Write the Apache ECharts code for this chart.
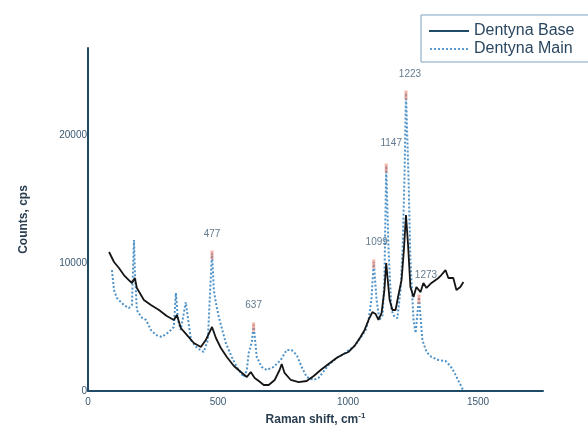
<!DOCTYPE html>
<html>
<head>
<meta charset="utf-8">
<script src="https://cdn.jsdelivr.net/npm/echarts@6/dist/echarts.min.js"></script>
<style>
  html, body { margin: 0; padding: 0; background: #fff; }
  #chart { width: 588px; height: 432px; }
</style>
</head>
<body>
<div id="chart"></div>
<script>
// Raman spectra (shift in cm-1, counts in cps)
var baseX = [81, 100, 119, 138, 157, 169, 180, 188, 215, 242, 273, 303, 330, 342, 357, 380, 407, 434, 453, 477,
  492, 511, 534, 561, 588, 611, 626, 641, 657, 676, 695, 718, 737, 745, 756, 780, 810, 841, 868, 895,
  925, 956, 983, 1002, 1025, 1048, 1064, 1079, 1094, 1106, 1117, 1129, 1140, 1147, 1160, 1171, 1183, 1194, 1206, 1215,
  1223, 1231, 1240, 1252, 1263, 1279, 1290, 1302, 1321, 1348, 1359, 1375, 1386, 1405, 1417, 1432, 1444];
var baseY = [10860, 10080, 9610, 9060, 8670, 8440, 8830, 8050, 7110, 6720, 6330, 5860, 5550, 5940, 4920, 4380, 3750, 3440, 3980, 5000,
  4140, 3360, 2660, 1950, 1480, 1090, 1480, 1020, 780, 470, 470, 860, 1640, 2110, 1410, 860, 700, 780, 1170, 1640,
  2110, 2580, 2890, 3050, 3520, 4220, 4770, 5550, 6170, 6020, 5550, 6090, 7890, 10000, 7110, 6330, 6330, 7500, 8670, 11020,
  13750, 11410, 8130, 7340, 8130, 7730, 8440, 8050, 8440, 8830, 9060, 9450, 8830, 8830, 7890, 8130, 8520];

var mainX = [92, 100, 111, 138, 157, 169, 173, 177, 180, 188, 204, 223, 242, 261, 284, 311, 330, 338, 346, 357,
  376, 388, 396, 419, 445, 461, 468, 477, 484, 492, 503, 530, 553, 572, 599, 611, 618, 630, 637, 649,
  668, 687, 714, 741, 764, 783, 803, 822, 841, 868, 887, 925, 956, 983, 1025, 1048, 1068, 1079, 1090, 1099,
  1110, 1121, 1133, 1140, 1147, 1156, 1167, 1179, 1190, 1202, 1210, 1217, 1223, 1233, 1240, 1252, 1260, 1273, 1286, 1302,
  1321, 1348, 1375, 1394, 1410, 1425, 1437, 1444];
var mainY = [9450, 7890, 7270, 6720, 6480, 6720, 9450, 11800, 9450, 6330, 5780, 5550, 4770, 4380, 4220, 4610, 5000, 7660, 5550, 4770,
  6950, 5160, 3980, 3360, 3050, 3980, 7110, 10780, 7890, 6880, 5780, 3750, 2660, 1880, 1090, 1640, 2970, 3830, 5160, 2660,
  1880, 1640, 1880, 2420, 3200, 3200, 2810, 1880, 1090, 860, 1020, 2030, 2580, 2890, 3520, 4140, 4770, 5550, 7110, 10080,
  7110, 5550, 5940, 8670, 17580, 11020, 6330, 5780, 5700, 7890, 11020, 16480, 23280, 16480, 10230, 5550, 4530, 7340, 3980, 3050,
  2660, 2420, 2340, 1950, 1410, 780, 310, 0];

// labelled peaks of Dentyna Main
var peakShift = [477, 637, 1099, 1147, 1223, 1273];
var peakLabels = ['477', '637', '1099', '1147', '1223', '1273'];

var xTicks = [0, 500, 1000, 1500];
var yTicks = [0, 10000, 20000];

var chart = echarts.init(document.getElementById('chart'));

function pairs(xs, ys) {
  return xs.map(function (x, i) { return [x, ys[i]]; });
}

// label nudges, px
var peakLabelOffset = [[0, -21], [0, -22], [3, -22], [5, -25], [4, -21], [7, -24]];

var peakData = peakShift.map(function (x, i) {
  return {
    value: [x, mainY[mainX.indexOf(x)]],
    label: { formatter: peakLabels[i], offset: peakLabelOffset[i] }
  };
});

// legend samples: a solid bar and a row of short dashes
var solidIcon = 'path://M0,0H40V2H0Z';
var dashIcon = 'path://';
for (var d = 0; d < 40; d += 4) dashIcon += 'M' + d + ',0h2v2h-2z';

var axisColor = '#1f4b68';
var textColor = '#3b5870';
var font = 'Liberation Sans, Arial, sans-serif';

var option = {
  animation: false,
  backgroundColor: '#fff',
  textStyle: { fontFamily: font },
  grid: { left: 88, right: 45, top: 48, bottom: 41 },
  legend: {
    orient: 'vertical',
    left: 421,
    top: 15,
    padding: [8, 20, 5, 8],
    itemWidth: 40,
    itemHeight: 2,
    itemGap: 2,
    borderColor: '#7fa3bd',
    borderWidth: 1,
    textStyle: { fontSize: 16, color: '#2a4761', fontFamily: font },
    data: [
      { name: 'Dentyna Base', icon: solidIcon, itemStyle: { color: '#1f4b68' } },
      { name: 'Dentyna Main', icon: dashIcon, itemStyle: { color: '#5b9bd0' } }
    ]
  },
  xAxis: {
    type: 'value',
    min: 0,
    max: 1750,
    interval: 500,
    name: 'Raman shift, cm{sup|-1}',
    nameLocation: 'middle',
    nameGap: 15,
    nameTextStyle: {
      fontSize: 12, fontWeight: 'bold', color: '#2a3e50',
      rich: { sup: { fontSize: 8, fontWeight: 'bold', color: '#2a3e50', verticalAlign: 'top', padding: [0, 0, 8, 0] } }
    },
    axisLine: { lineStyle: { color: axisColor, width: 2 } },
    axisTick: { show: false },
    splitLine: { show: false },
    axisLabel: {
      showMaxLabel: false, fontSize: 10, color: textColor, margin: 6,
      formatter: function (v) { return xTicks.indexOf(v) >= 0 ? String(v) : ''; }
    }
  },
  yAxis: {
    type: 'value',
    min: 0,
    max: 26800,
    interval: 10000,
    name: 'Counts, cps',
    nameLocation: 'middle',
    nameGap: 58,
    nameTextStyle: { fontSize: 12, fontWeight: 'bold', color: '#2a3e50' },
    axisLine: { show: true, lineStyle: { color: axisColor, width: 2 } },
    axisTick: { show: false },
    splitLine: { show: false },
    axisLabel: {
      showMaxLabel: false, fontSize: 10, color: textColor, margin: 1,
      formatter: function (v) { return yTicks.indexOf(v) >= 0 ? String(v) : ''; }
    }
  },
  series: [
    {
      name: 'Dentyna Base',
      type: 'line',
      data: pairs(baseX, baseY),
      showSymbol: false,
      symbol: 'none',
      color: '#151515',
      lineStyle: { color: '#151515', width: 1.8 },
      z: 3
    },
    {
      name: 'Dentyna Main',
      type: 'line',
      data: pairs(mainX, mainY),
      showSymbol: false,
      symbol: 'none',
      color: '#4f93c9',
      lineStyle: { color: '#4f93c9', width: 2, type: [2, 2] },
      z: 2
    },
    {
      name: 'peaks',
      type: 'scatter',
      data: peakData,
      symbol: 'rect',
      symbolSize: [3, 9],
      symbolOffset: [0, 2],
      itemStyle: { color: 'rgba(240,130,110,0.75)' },
      label: { show: true, position: 'inside', fontSize: 10, color: textColor },
      z: 4
    }
  ]
};

chart.setOption(option);
</script>
</body>
</html>
